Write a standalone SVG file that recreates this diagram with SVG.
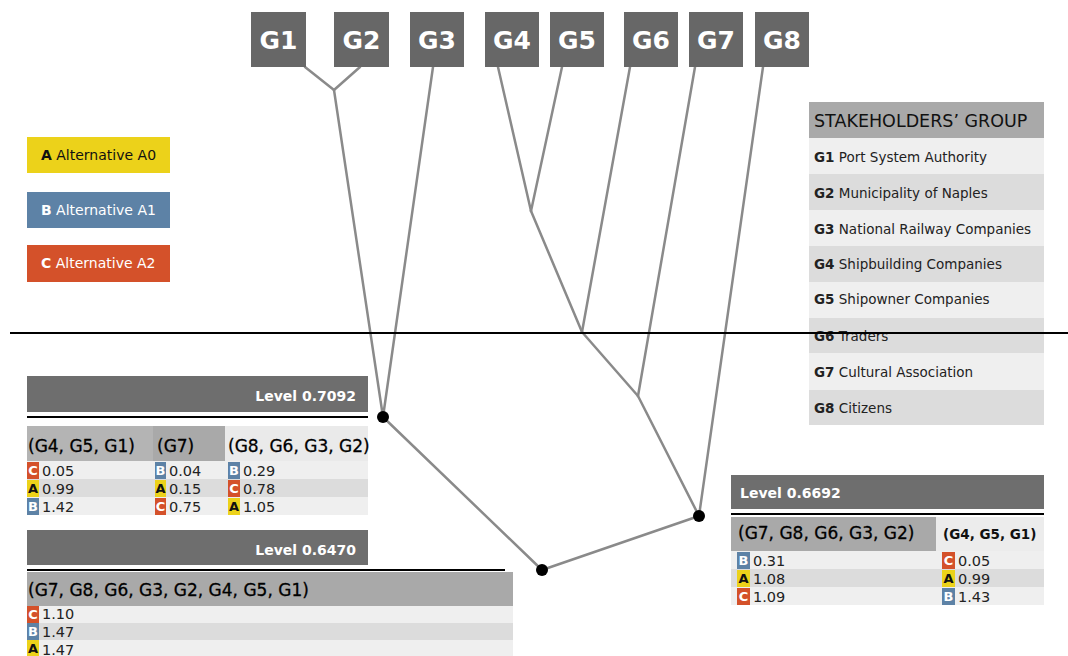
<svg xmlns="http://www.w3.org/2000/svg" width="1068" height="656" viewBox="0 0 1068 656">
  <style>
    .gbox { fill: #676767; }
    .glabel { font-family: "DejaVu Sans", sans-serif; font-weight: bold; font-size: 25px; fill: #ffffff; text-anchor: middle; }
    .edge { fill: none; stroke: #8a8a8a; stroke-width: 2.5; stroke-linecap: round; }
    .dot { fill: #000000; }
    .leg { font-family: "DejaVu Sans", sans-serif; font-size: 14px; }
    .st { font-family: "DejaVu Sans", sans-serif; font-size: 13.5px; fill: #222; }
    .sth { font-family: "DejaVu Sans", sans-serif; font-size: 17.5px; fill: #111; }
    .rowL { fill: #efefef; }
    .rowD { fill: #dcdcdc; }
    .bar { fill: #6e6e6e; }
    .lvl { font-family: "DejaVu Sans", sans-serif; font-weight: bold; font-size: 14px; fill: #ffffff; }
    .colh { font-family: "DejaVu Sans", sans-serif; font-size: 17px; fill: #000; stroke: #000; stroke-width: 0.3; }
    .colhb { font-family: "DejaVu Sans", sans-serif; font-size: 13.5px; font-weight: bold; fill: #111; }
    .num { font-family: "DejaVu Sans", sans-serif; font-size: 14.5px; fill: #222; }
    .bA { fill: #ecd21a; }
    .bB { fill: #5d82a6; }
    .bC { fill: #d4512a; }
    .bt { font-family: "DejaVu Sans", sans-serif; font-weight: bold; font-size: 13px; text-anchor: middle; }
  </style>

  <!-- dendrogram connectors -->
  <g id="connectors">
    <path class="edge" d="M305,67 L334,90"/>
    <path class="edge" d="M360,67 L334,90"/>
    <path class="edge" d="M334,90 L383,417"/>
    <path class="edge" d="M433,67 L383,417"/>
    <path class="edge" d="M498,67 L531,211"/>
    <path class="edge" d="M562,67 L531,211"/>
    <path class="edge" d="M531,211 L582,332"/>
    <path class="edge" d="M630,67 L582,332"/>
    <path class="edge" d="M582,332 L638,396"/>
    <path class="edge" d="M695,67 L638,396"/>
    <path class="edge" d="M638,396 L699,516"/>
    <path class="edge" d="M763,67 L699,516"/>
    <path class="edge" d="M383,417 L542,570"/>
    <path class="edge" d="M699,516 L542,570"/>
    <circle class="dot" cx="383" cy="417" r="6"/>
    <circle class="dot" cx="699" cy="516" r="6"/>
    <circle class="dot" cx="542" cy="570" r="6"/>
  </g>

  <!-- group nodes -->
  <g id="G1"><rect class="gbox" x="251" y="12" width="55" height="55"/><text class="glabel" x="278.5" y="49">G1</text></g>
  <g id="G2"><rect class="gbox" x="334" y="12" width="55" height="55"/><text class="glabel" x="361.5" y="49">G2</text></g>
  <g id="G3"><rect class="gbox" x="410" y="12" width="54" height="55"/><text class="glabel" x="437" y="49">G3</text></g>
  <g id="G4"><rect class="gbox" x="485" y="12" width="54" height="55"/><text class="glabel" x="512" y="49">G4</text></g>
  <g id="G5"><rect class="gbox" x="550" y="12" width="54" height="55"/><text class="glabel" x="577" y="49">G5</text></g>
  <g id="G6"><rect class="gbox" x="624" y="12" width="54" height="55"/><text class="glabel" x="651" y="49">G6</text></g>
  <g id="G7"><rect class="gbox" x="689" y="12" width="54" height="55"/><text class="glabel" x="716" y="49">G7</text></g>
  <g id="G8"><rect class="gbox" x="755" y="12" width="54" height="55"/><text class="glabel" x="782" y="49">G8</text></g>

  <!-- legend of alternatives -->
  <g id="legend">
    <rect x="27" y="137" width="143" height="36" fill="#ecd21a"/>
    <text class="leg" x="41" y="160" fill="#111"><tspan font-weight="bold">A</tspan> Alternative A0</text>
    <rect x="27" y="192" width="143" height="36" fill="#5d82a6"/>
    <text class="leg" x="41" y="215" fill="#fff"><tspan font-weight="bold">B</tspan> Alternative A1</text>
    <rect x="27" y="245" width="143" height="37" fill="#d4512a"/>
    <text class="leg" x="41" y="268" fill="#fff"><tspan font-weight="bold">C</tspan> Alternative A2</text>
  </g>

  <!-- stakeholders table -->
  <g id="stakeholders">
    <rect x="809" y="102" width="235" height="36" fill="#a9a9a9"/>
    <text class="sth" x="814" y="127">STAKEHOLDERS’ GROUP</text>
    <rect class="rowL" x="809" y="138" width="235" height="36"/>
    <rect class="rowD" x="809" y="174" width="235" height="36"/>
    <rect class="rowL" x="809" y="210" width="235" height="36"/>
    <rect class="rowD" x="809" y="246" width="235" height="36"/>
    <rect class="rowL" x="809" y="282" width="235" height="36"/>
    <rect class="rowD" x="809" y="318" width="235" height="35"/>
    <rect class="rowL" x="809" y="353" width="235" height="37"/>
    <rect class="rowD" x="809" y="390" width="235" height="35"/>
    <text class="st" x="814" y="162"><tspan font-weight="bold">G1</tspan> Port System Authority</text>
    <text class="st" x="814" y="198"><tspan font-weight="bold">G2</tspan> Municipality of Naples</text>
    <text class="st" x="814" y="234"><tspan font-weight="bold">G3</tspan> National Railway Companies</text>
    <text class="st" x="814" y="269"><tspan font-weight="bold">G4</tspan> Shipbuilding Companies</text>
    <text class="st" x="814" y="304"><tspan font-weight="bold">G5</tspan> Shipowner Companies</text>
    <text class="st" x="814" y="341"><tspan font-weight="bold">G6</tspan> Traders</text>
    <text class="st" x="814" y="377"><tspan font-weight="bold">G7</tspan> Cultural Association</text>
    <text class="st" x="814" y="413"><tspan font-weight="bold">G8</tspan> Citizens</text>
  </g>

  <!-- cut line -->
  <line x1="10" y1="333" x2="1068" y2="333" stroke="#000" stroke-width="2"/>

  <!-- level 0.7092 -->
  <g id="level-07092">
    <rect class="bar" x="27" y="376" width="341" height="36"/>
    <text class="lvl" x="356" y="401" text-anchor="end">Level 0.7092</text>
    <line x1="27" y1="417" x2="368" y2="417" stroke="#000" stroke-width="2"/>
    <rect x="27" y="426" width="126" height="35" fill="#b4b4b4"/>
    <rect x="153" y="426" width="72" height="35" fill="#a9a9a9"/>
    <rect x="225" y="426" width="143" height="35" fill="#eaeaea"/>
    <text class="colh" x="28" y="452">(G4, G5, G1)</text>
    <text class="colh" x="157" y="452">(G7)</text>
    <text class="colh" x="228" y="452">(G8, G6, G3, G2)</text>
    <rect class="rowL" x="27" y="461" width="341" height="18"/>
    <rect class="rowD" x="27" y="479" width="341" height="18"/>
    <rect class="rowL" x="27" y="497" width="341" height="18"/>
    <rect class="bC" x="27" y="462" width="12" height="17"/><text class="bt" x="33" y="475" fill="#fff">C</text><text class="num" x="42" y="476">0.05</text>
    <rect class="bA" x="27" y="480" width="12" height="17"/><text class="bt" x="33" y="493" fill="#111">A</text><text class="num" x="42" y="494">0.99</text>
    <rect class="bB" x="27" y="498" width="12" height="17"/><text class="bt" x="33" y="511" fill="#fff">B</text><text class="num" x="42" y="512">1.42</text>
    <rect class="bB" x="155" y="462" width="11" height="17"/><text class="bt" x="160.5" y="475" fill="#fff">B</text><text class="num" x="169" y="476">0.04</text>
    <rect class="bA" x="155" y="480" width="11" height="17"/><text class="bt" x="160.5" y="493" fill="#111">A</text><text class="num" x="169" y="494">0.15</text>
    <rect class="bC" x="155" y="498" width="11" height="17"/><text class="bt" x="160.5" y="511" fill="#fff">C</text><text class="num" x="169" y="512">0.75</text>
    <rect class="bB" x="228" y="462" width="12" height="17"/><text class="bt" x="234" y="475" fill="#fff">B</text><text class="num" x="243" y="476">0.29</text>
    <rect class="bC" x="228" y="480" width="12" height="17"/><text class="bt" x="234" y="493" fill="#fff">C</text><text class="num" x="243" y="494">0.78</text>
    <rect class="bA" x="228" y="498" width="12" height="17"/><text class="bt" x="234" y="511" fill="#111">A</text><text class="num" x="243" y="512">1.05</text>
  </g>

  <!-- level 0.6470 -->
  <g id="level-06470">
    <rect class="bar" x="27" y="530" width="341" height="35"/>
    <text class="lvl" x="356" y="555" text-anchor="end">Level 0.6470</text>
    <line x1="27" y1="570" x2="505" y2="570" stroke="#000" stroke-width="2"/>
    <rect x="27" y="572" width="486" height="34" fill="#a9a9a9"/>
    <text class="colh" x="28" y="596">(G7, G8, G6, G3, G2, G4, G5, G1)</text>
    <rect class="rowL" x="27" y="606" width="486" height="17"/>
    <rect class="rowD" x="27" y="623" width="486" height="17"/>
    <rect class="rowL" x="27" y="640" width="486" height="16"/>
    <rect class="bC" x="27" y="606" width="12" height="17"/><text class="bt" x="33" y="619" fill="#fff">C</text><text class="num" x="42" y="619">1.10</text>
    <rect class="bB" x="27" y="623" width="12" height="17"/><text class="bt" x="33" y="636" fill="#fff">B</text><text class="num" x="42" y="637">1.47</text>
    <rect class="bA" x="27" y="640" width="12" height="17"/><text class="bt" x="33" y="653" fill="#111">A</text><text class="num" x="42" y="655">1.47</text>
  </g>

  <!-- level 0.6692 -->
  <g id="level-06692">
    <rect class="bar" x="731" y="475" width="313" height="34"/>
    <text class="lvl" x="740" y="498">Level 0.6692</text>
    <line x1="731" y1="514" x2="1044" y2="514" stroke="#000" stroke-width="2"/>
    <rect x="731" y="517" width="205" height="34" fill="#a9a9a9"/>
    <rect x="936" y="517" width="108" height="34" fill="#ececec"/>
    <text class="colh" x="738" y="539">(G7, G8, G6, G3, G2)</text>
    <text class="colhb" x="943" y="539">(G4, G5, G1)</text>
    <rect class="rowL" x="731" y="551" width="313" height="18"/>
    <rect class="rowD" x="731" y="569" width="313" height="18"/>
    <rect class="rowL" x="731" y="587" width="313" height="18"/>
    <rect class="bB" x="737" y="552" width="13" height="17"/><text class="bt" x="743.5" y="565" fill="#fff">B</text><text class="num" x="753" y="566">0.31</text>
    <rect class="bA" x="737" y="570" width="13" height="17"/><text class="bt" x="743.5" y="583" fill="#111">A</text><text class="num" x="753" y="584">1.08</text>
    <rect class="bC" x="737" y="588" width="13" height="17"/><text class="bt" x="743.5" y="601" fill="#fff">C</text><text class="num" x="753" y="602">1.09</text>
    <rect class="bC" x="942" y="552" width="13" height="17"/><text class="bt" x="948.5" y="565" fill="#fff">C</text><text class="num" x="958" y="566">0.05</text>
    <rect class="bA" x="942" y="570" width="13" height="17"/><text class="bt" x="948.5" y="583" fill="#111">A</text><text class="num" x="958" y="584">0.99</text>
    <rect class="bB" x="942" y="588" width="13" height="17"/><text class="bt" x="948.5" y="601" fill="#fff">B</text><text class="num" x="958" y="602">1.43</text>
  </g>
</svg>
